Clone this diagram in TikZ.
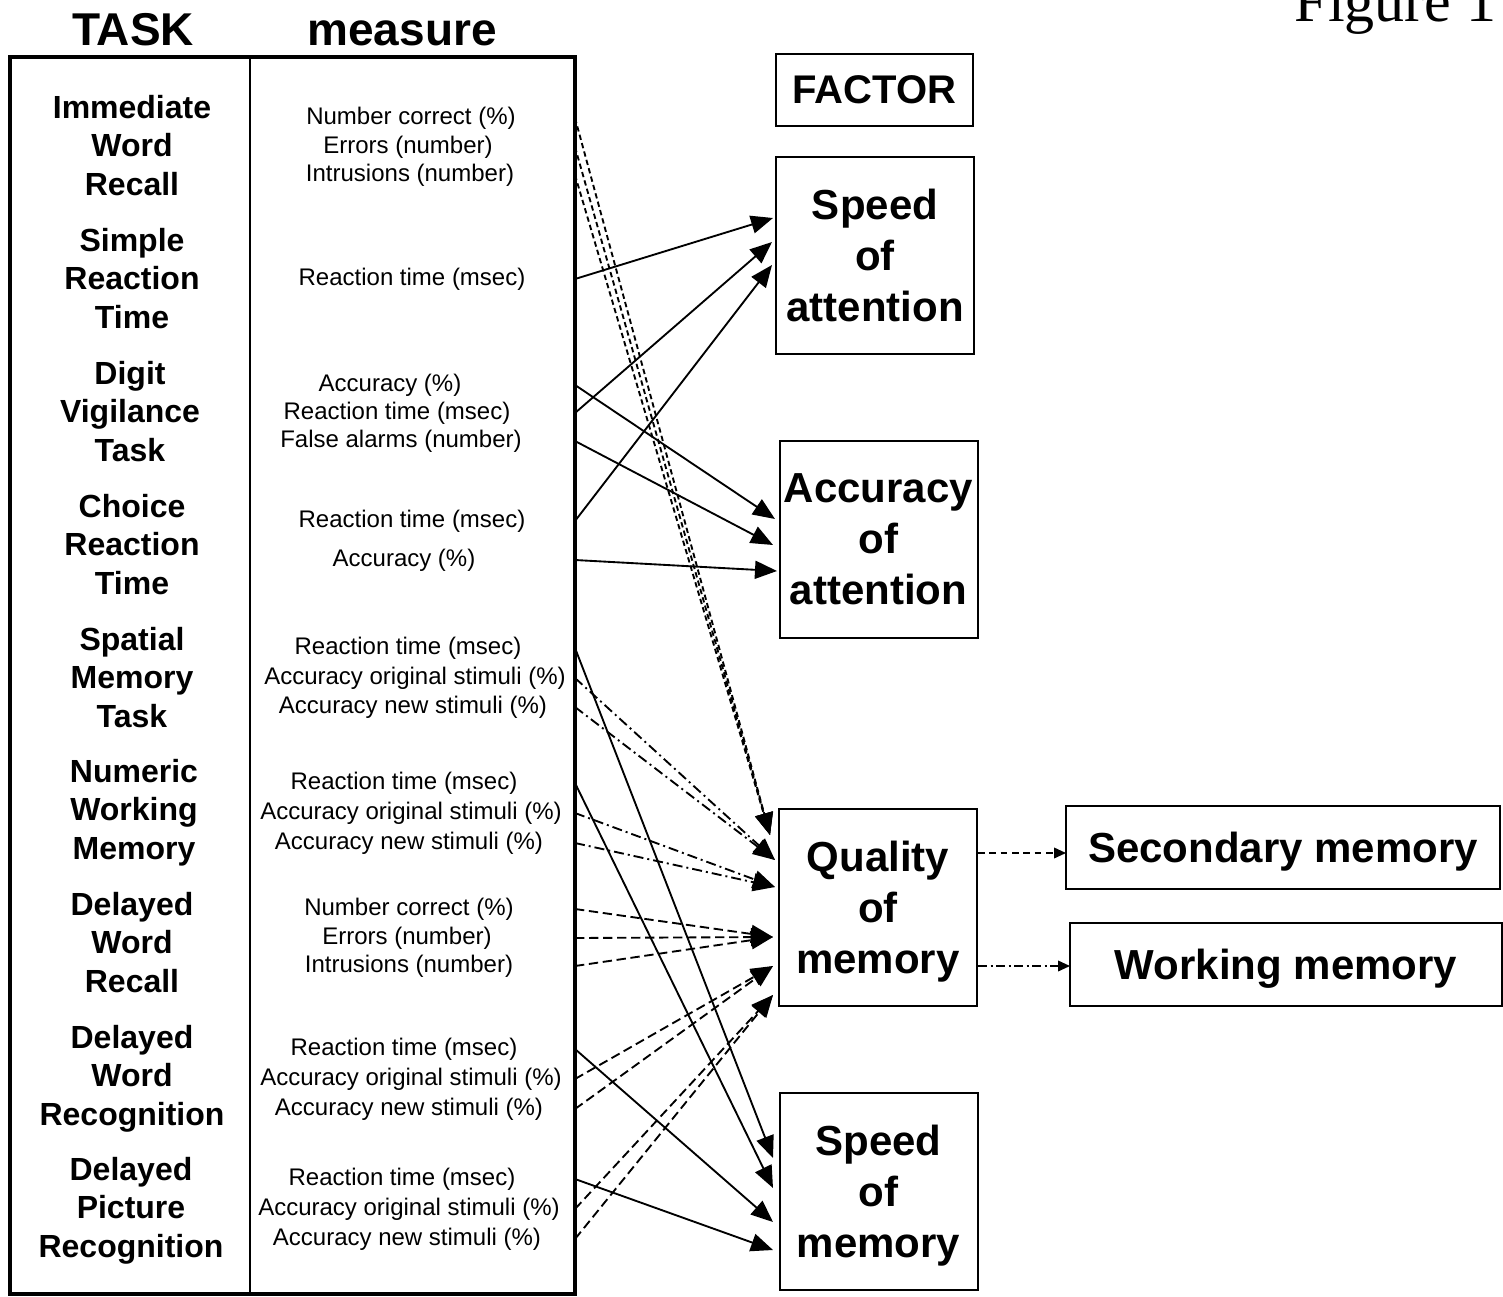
\documentclass[tikz,border=0pt]{standalone}
\usepackage{fontspec}
\setmainfont{Liberation Sans}
\newfontfamily\figfont{Liberation Serif}
\usetikzlibrary{arrows.meta}

\tikzset{every picture/.style={line width=0.75pt}}
\tikzset{
  headlbl/.style={anchor=base, inner sep=0.75pt, font=\fontsize{34.5}{41}\selectfont\bfseries},
  tasklbl/.style={anchor=center, inner sep=0.75pt, align=center, text depth=0pt, font=\fontsize{24}{28.9}\selectfont\bfseries},
  measlbl/.style={anchor=center, inner sep=0.75pt, yshift=-1.5pt, font=\fontsize{18}{21.6}\selectfont},
  factorbox/.style={draw, line width=1.5pt, minimum width=148.5pt, minimum height=147.75pt, inner sep=0pt, align=center, text depth=0pt, font=\fontsize{31.5}{38.25}\selectfont\bfseries},
  subbox/.style={draw, line width=1.5pt, minimum height=62.25pt, inner sep=0pt, text depth=0pt, font=\fontsize{31.5}{38}\selectfont\bfseries},
  solidarr/.style={line width=1.4pt, -{Triangle[length=16.5pt,width=13.5pt]}},
  dasharr/.style={solidarr, dash pattern=on 7pt off 3.5pt},
  finearr/.style={solidarr, dash pattern=on 4pt off 2.5pt},
  dotdasharr/.style={solidarr, dash pattern=on 7.5pt off 3pt on 1.5pt off 3pt},
  smallarr/.style={line width=1.2pt, -{Triangle[length=9pt,width=8pt]}},
}

\begin{document}
\begin{tikzpicture}[x=0.75pt,y=0.75pt,yscale=-1,xscale=1]
\useasboundingbox (0,0) rectangle (1503,1296);

%Shape: Rectangle (table)
\coordinate (tl) at (10,57);
\coordinate (br) at (575,1294);
\draw [line width=3pt] (tl) rectangle (br) ;
%Straight Lines (column rule)
\draw [line width=1.5pt] (250,57) -- (250,1294) ;

% Text Node
\draw (133,45) node (hdtask) [headlbl] {TASK};
% Text Node
\draw (402,45) node (hdmeas) [headlbl] {measure};
% Text Node
\draw (1497,21) node (figlbl) [anchor=base east, inner sep=0pt, font=\figfont\fontsize{45}{54}\selectfont] {Figure 1};

% Task names
\draw (132,145) node (t1) [tasklbl] {Immediate\\Word\\Recall};
\draw (132,278) node (t2) [tasklbl] {Simple\\Reaction\\Time};
\draw (130,411) node (t3) [tasklbl] {Digit\\Vigilance\\Task};
\draw (132,544) node (t4) [tasklbl] {Choice\\Reaction\\Time};
\draw (132,677) node (t5) [tasklbl] {Spatial\\Memory\\Task};
\draw (134,809) node (t6) [tasklbl] {Numeric\\Working\\Memory};
\draw (132,942) node (t7) [tasklbl] {Delayed\\Word\\Recall};
\draw (132,1075) node (t8) [tasklbl] {Delayed\\Word\\Recognition};
\draw (131,1207) node (t9) [tasklbl] {Delayed\\Picture\\Recognition};

% Measures
\draw (411,116) node (m11) [measlbl] {Number correct (\%)};
\draw (408,145) node (m12) [measlbl] {Errors (number)};
\draw (410,173) node (m13) [measlbl] {Intrusions (number)};
\draw (412,277) node (m21) [measlbl] {Reaction time (msec)};
\draw (390,383) node (m31) [measlbl] {Accuracy (\%)};
\draw (397,411) node (m32) [measlbl] {Reaction time (msec)};
\draw (401,439) node (m33) [measlbl] {False alarms (number)};
\draw (412,519) node (m41) [measlbl] {Reaction time (msec)};
\draw (404,558) node (m42) [measlbl] {Accuracy (\%)};
\draw (408,646) node (m51) [measlbl] {Reaction time (msec)};
\draw (415,676) node (m52) [measlbl] {Accuracy original stimuli (\%)};
\draw (413,705) node (m53) [measlbl] {Accuracy new stimuli (\%)};
\draw (404,781) node (m61) [measlbl] {Reaction time (msec)};
\draw (411,811) node (m62) [measlbl] {Accuracy original stimuli (\%)};
\draw (409,841) node (m63) [measlbl] {Accuracy new stimuli (\%)};
\draw (409,907) node (m71) [measlbl] {Number correct (\%)};
\draw (407,936) node (m72) [measlbl] {Errors (number)};
\draw (409,964) node (m73) [measlbl] {Intrusions (number)};
\draw (404,1047) node (m81) [measlbl] {Reaction time (msec)};
\draw (411,1077) node (m82) [measlbl] {Accuracy original stimuli (\%)};
\draw (409,1107) node (m83) [measlbl] {Accuracy new stimuli (\%)};
\draw (402,1177) node (m91) [measlbl] {Reaction time (msec)};
\draw (409,1207) node (m92) [measlbl] {Accuracy original stimuli (\%)};
\draw (407,1237) node (m93) [measlbl] {Accuracy new stimuli (\%)};

%Shape: Rectangle (factor heading)
\draw (874.5,90) node (factor) [draw, line width=1.5pt, minimum width=147.75pt, minimum height=54pt, inner sep=0pt, font=\fontsize{30}{36}\selectfont\bfseries] {FACTOR};
%Shape: Rectangle (factors)
\draw (875,255.5) node (spatt) [factorbox] {Speed\\of\\attention};
\draw (878.5,539.5) node (acatt) [factorbox] {Accuracy\\of\\attention};
\draw (878,907.5) node (qual) [factorbox] {Quality\\of\\memory};
\draw (878.5,1191.5) node (spmem) [factorbox] {Speed\\of\\memory};
%Shape: Rectangle (sub factors)
\draw (1283,847.5) node (secmem) [subbox, minimum width=325.5pt] {Secondary memory};
\draw (1286,964) node (wrkmem) [subbox, minimum width=324pt] {Working memory};

% Arrow ends
\coordinate (sa1) at (773,218);
\coordinate (sa2) at (772,242);
\coordinate (sa3) at (772,265);
\coordinate (ac1) at (775,519);
\coordinate (ac2) at (773,545);
\coordinate (ac3) at (777,571);
\coordinate (qm1) at (770,835);
\coordinate (qm2) at (775,860);
\coordinate (qm3) at (775,887);
\coordinate (qm4) at (773,937);
\coordinate (qm5) at (773,966);
\coordinate (qm6) at (773,995);
\coordinate (sm1) at (773,1158);
\coordinate (sm2) at (773,1188);
\coordinate (sm3) at (773,1222);
\coordinate (sm4) at (773,1250);
\coordinate (sec1) at (1066,853);
\coordinate (wrk1) at (1070,966);

%Straight Lines (speed of attention)
\draw [solidarr] (br |- m21) -- (sa1) ;
\draw [solidarr] (br |- m32) -- (sa2) ;
\draw [solidarr] (br |- m41) -- (sa3) ;
%Straight Lines (accuracy of attention)
\draw [solidarr] (br |- m31) -- (ac1) ;
\draw [solidarr] (br |- m33) -- (ac2) ;
\draw [solidarr] (br |- m42) -- (ac3) ;
%Straight Lines (quality of memory)
\draw [finearr] (br |- m11) -- (qm1) ;
\draw [finearr] (br |- m12) -- (qm1) ;
\draw [finearr] (br |- m13) -- (qm1) ;
\draw [dotdasharr] (br |- m52) -- (qm2) ;
\draw [dotdasharr] (br |- m53) -- (qm2) ;
\draw [dotdasharr] (br |- m62) -- (qm3) ;
\draw [dotdasharr] (br |- m63) -- (qm3) ;
\draw [dasharr] (br |- m71) -- (qm4) ;
\draw [dasharr] (br |- m72) -- (qm4) ;
\draw [dasharr] (br |- m73) -- (qm4) ;
\draw [dasharr] (br |- m82) -- (qm5) ;
\draw [dasharr] (br |- m83) -- (qm5) ;
\draw [dasharr] (br |- m92) -- (qm6) ;
\draw [dasharr] (br |- m93) -- (qm6) ;
%Straight Lines (speed of memory)
\draw [solidarr] (br |- m51) -- (sm1) ;
\draw [solidarr] (br |- m61) -- (sm2) ;
\draw [solidarr] (br |- m81) -- (sm3) ;
\draw [solidarr] (br |- m91) -- (sm4) ;
%Straight Lines (sub factors)
\draw [smallarr, dash pattern=on 5pt off 3.5pt] (qual.east |- sec1) -- (sec1) ;
\draw [smallarr, dash pattern=on 7pt off 2.5pt on 1.5pt off 2.5pt] (qual.east |- wrk1) -- (wrk1) ;

\end{tikzpicture}
\end{document}
